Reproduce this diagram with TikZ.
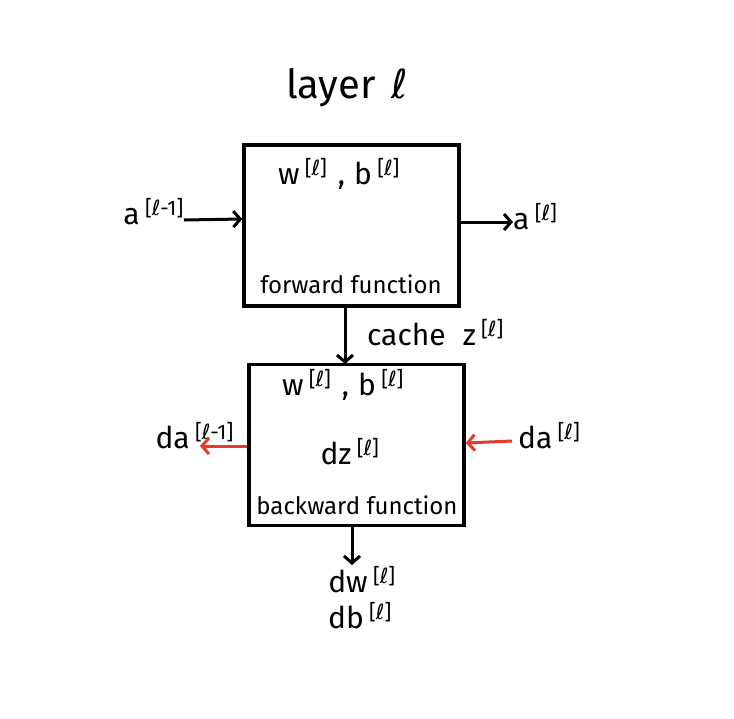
\documentclass[tikz,border=0pt]{standalone}
\usepackage{fontspec}
\setmainfont{Fira Sans}
\newfontfamily\dvfont{DejaVu Sans}
\usetikzlibrary{arrows.meta}
\definecolor{redarrow}{HTML}{E8392B}
\newcommand{\ellchar}{{\dvfont ℓ}}
\newcommand{\lsup}[1]{\textsuperscript{\hspace{0.25em}[#1]}}
\begin{document}
\begin{tikzpicture}[x=1pt,y=-1pt,
  box/.style={draw, line width=3.5pt, minimum width=215pt, minimum height=161pt, inner sep=0pt},
  lbl/.style={font=\fontsize{24}{26}\selectfont, inner sep=0pt},
  big/.style={font=\fontsize{30}{32}\selectfont, inner sep=0pt},
  arr/.style={line width=3pt, -{Straight Barb[length=7pt,width=16pt,line width=3pt]}},
  redarr/.style={arr, draw=redarrow}]
\useasboundingbox (0,0) rectangle (734,718);
\fill[white] (0,0) rectangle (734,718);
\node[font=\fontsize{40}{42}\selectfont, inner sep=0pt] (title) at (347,88) {layer\hspace{0.4em}\ellchar};
% forward box
\node[box] (fwd) at (351.5,225.5) {};
\node[big] (fwdwb) at (339,174) {w\lsup{\ellchar}\hspace{0.35em},\hspace{0.3em}b\lsup{\ellchar}};
\node[lbl] (fwdname) at (351,284) {forward function};
\node[big, anchor=east] (ain) at (184,212) {a\lsup{\ellchar-1}};
\node[big, anchor=west] (aout) at (513,217) {a\lsup{\ellchar}};
\draw[arr] (ain.east |- 0,220) -- (fwd.west |- 0,219);
\draw[arr] (fwd.east |- 0,222) -- (aout.west |- 0,222);
% backward box
\node[box] (bwd) at (356.5,445) {};
\node[big] (bwdwb) at (343,385) {w\lsup{\ellchar}\hspace{0.35em},\hspace{0.3em}b\lsup{\ellchar}};
\node[big] (dz) at (350,452) {dz\lsup{\ellchar}};
\node[lbl] (bwdname) at (357,505) {backward function};
\coordinate (fwdb) at (345,306);
\coordinate (bwdt) at (345,364);
\draw[arr] (fwdb) -- (bwdt);
\node[big, anchor=west] (cache) at (367,333) {cache\hspace{0.3em} z\lsup{\ellchar}};
% red arrows
\node[big, anchor=east] (dain) at (234,436) {da\lsup{\ellchar-1}};
\node[big, anchor=west] (daout) at (518,436) {da\lsup{\ellchar}};
\draw[redarr] (bwd.west |- 0,446) -- (200,446);
\draw[redarr] (512,441) -- (bwd.east |- 0,443);
% bottom output
\coordinate (bwdb) at (352,526);
\coordinate (gradtop) at (352,565);
\draw[arr] (bwdb) -- (gradtop);
\node[big] (dw) at (362,580) {dw\lsup{\ellchar}};
\node[big] (db) at (360,616) {db\lsup{\ellchar}};
\end{tikzpicture}
\end{document}
